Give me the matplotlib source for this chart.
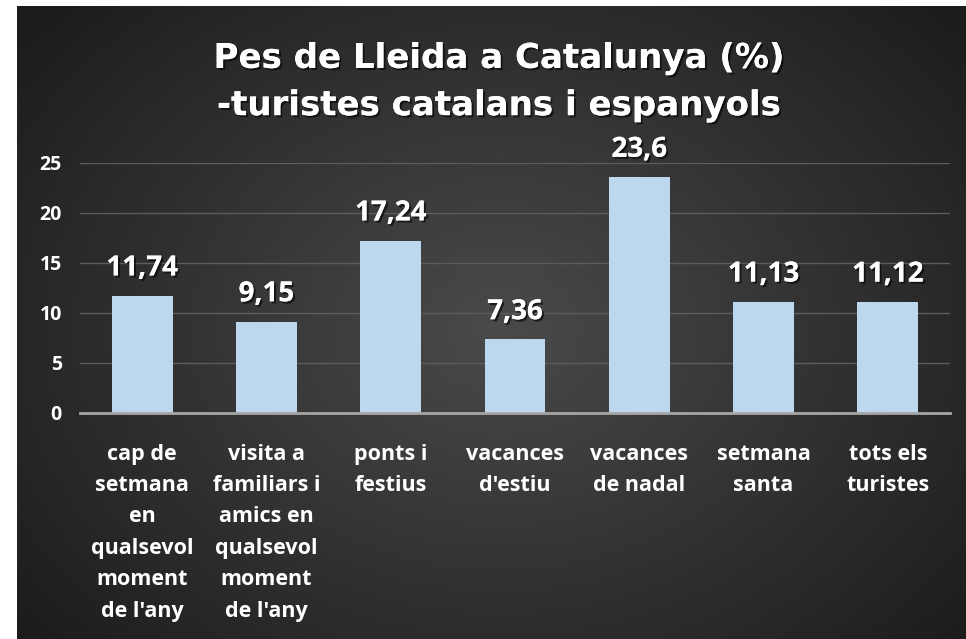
import numpy as np
import matplotlib
matplotlib.use("Agg")
import matplotlib.pyplot as plt
import matplotlib.patheffects as pe

categories = ["cap de\nsetmana\nen\nqualsevol\nmoment\nde l'any",
              "visita a\nfamiliars i\namics en\nqualsevol\nmoment\nde l'any",
              "ponts i\nfestius",
              "vacances\nd'estiu",
              "vacances\nde nadal",
              "setmana\nsanta",
              "tots els\nturistes"]
values = [11.74, 9.15, 17.24, 7.36, 23.6, 11.13, 11.12]
value_labels = ["11,74", "9,15", "17,24", "7,36", "23,6", "11,13", "11,12"]
yticks = [0, 5, 10, 15, 20, 25]
title = "Pes de Lleida a Catalunya (%)\n-turistes catalans i espanyols"

W, H = 966, 639
fig = plt.figure(figsize=(W/100, H/100), dpi=100)
fig.patch.set_facecolor("white")

# background panel with radial gradient
x0, y0 = 17, 6
bg = fig.add_axes([x0/W, 0, 1 - x0/W, 1 - y0/H])
bg.set_axis_off()
nx, ny = 400, 260
xx, yy = np.meshgrid(np.linspace(x0, W, nx), np.linspace(y0, H, ny))
cx, cy = 500, 330
r = np.sqrt(((xx - cx) / 620) ** 2 + ((yy - cy) / 480) ** 2)
r = np.clip(r, 0, 1)
inner = np.array([0x4a, 0x4a, 0x4a]) / 255
outer = np.array([0x1c, 0x1c, 0x1c]) / 255
img = inner[None, None, :] * (1 - r[..., None]) + outer[None, None, :] * r[..., None]
bg.imshow(img, aspect="auto", extent=[0, 1, 0, 1], origin="upper")
bg.set_xlim(0, 1); bg.set_ylim(0, 1)

font = "Open Sans"
shadow = [pe.withSimplePatchShadow(offset=(1.5, -1.5), shadow_rgbFace="black", alpha=0.6), pe.Normal()]

ax = fig.add_axes([80/W, 1 - 413/H, (950 - 80)/W, (413 - 163)/H])
ax.patch.set_alpha(0)
x = np.arange(len(values))
bars = ax.bar(x, values, width=0.49, color="#BDD7EE", zorder=3)
ax.set_xlim(-0.5, len(values) - 0.5)
ax.set_ylim(0, 25)
ax.set_yticks(yticks)
ax.set_yticklabels([str(t) for t in yticks], fontfamily=font, fontweight="bold",
                   fontsize=14, color="white")
ax.tick_params(axis="y", length=0, pad=13)
ax.yaxis.grid(True, color="#5c5c5c", linewidth=1, zorder=0)
ax.set_xticks(x)
ax.set_xticklabels(categories, fontfamily=font, fontweight="bold", fontsize=15.5,
                   color="white", linespacing=1.65, va="top")
ax.tick_params(axis="x", length=0, pad=22)
for s in ["top", "right", "left"]:
    ax.spines[s].set_visible(False)
ax.spines["bottom"].set_color("#a6a6a6")
ax.spines["bottom"].set_linewidth(2)
ax.spines["bottom"].set_zorder(4)

for xi, v, lab in zip(x, values, value_labels):
    ax.annotate(lab, (xi, v), xytext=(0, 9.5), textcoords="offset points",
                ha="center", va="bottom", fontfamily=font, fontweight="bold",
                fontsize=20, color="white", path_effects=shadow)

fig.text(499/W, 1 - 82/H, title, ha="center", va="center", fontfamily="DejaVu Sans",
         fontweight="bold", fontsize=24.5, color="white", linespacing=1.55,
         path_effects=shadow)

fig.savefig("out.png", dpi=100, facecolor=fig.get_facecolor())
